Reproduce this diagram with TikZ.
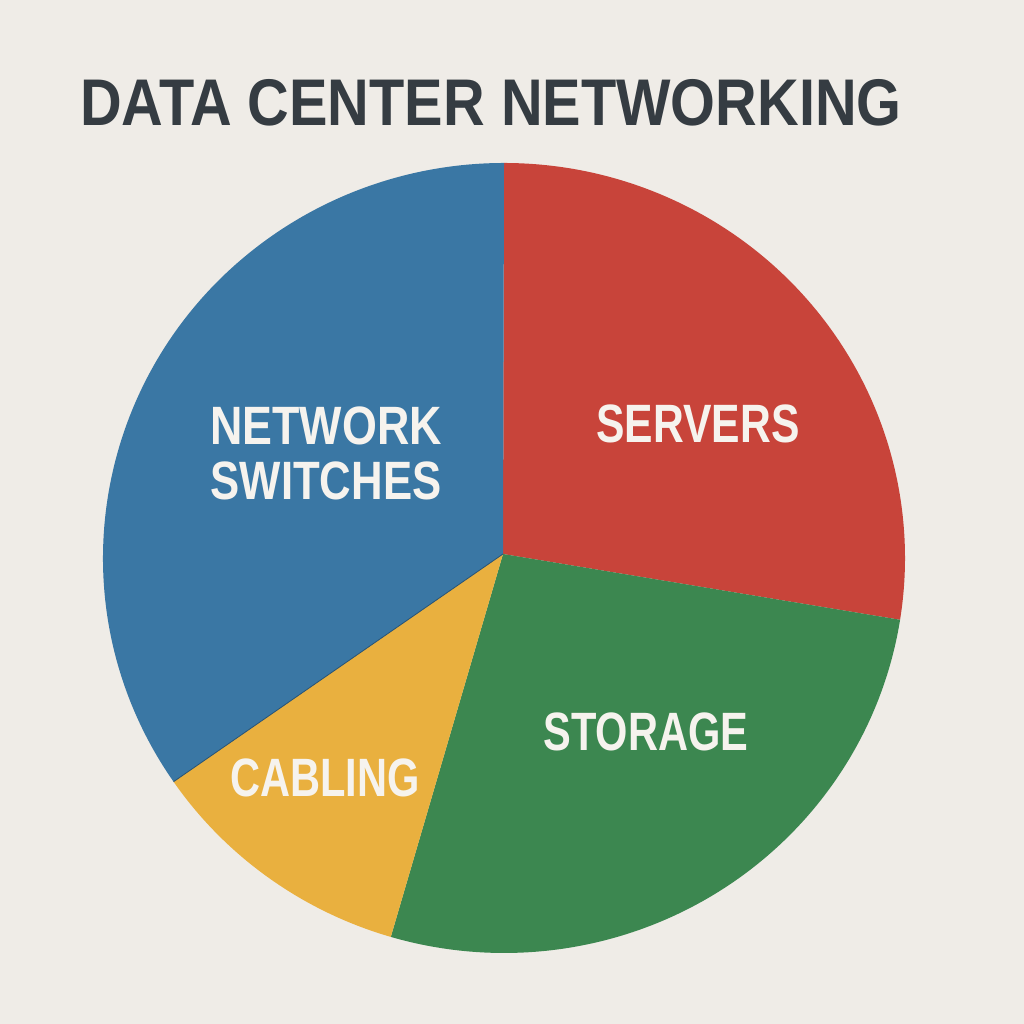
\documentclass[tikz,border=0pt]{standalone}
\usepackage{fontspec}
\setmainfont{Liberation Sans}
\usetikzlibrary{calc}
\definecolor{bg}{HTML}{EFECE7}
\definecolor{pblue}{HTML}{3A77A4}
\definecolor{pred}{HTML}{C8443A}
\definecolor{pgreen}{HTML}{3C8750}
\definecolor{pyellow}{HTML}{E9B03F}
\definecolor{ptitle}{HTML}{353C42}
\definecolor{plabel}{HTML}{F6F3EE}
\begin{document}
\begin{tikzpicture}[x=1pt,y=1pt,
  lbl/.style={anchor=base, inner sep=0pt, text=plabel, font=\fontsize{54}{58}\selectfont\bfseries}]
\fill[bg] (0,0) rectangle (1024,1024);
\useasboundingbox (0,0) rectangle (1024,1024);
\coordinate (O) at (504,466);
\coordinate (V) at (503,470);
% slices
\fill[pred] (V) -- ($(O)+(90:401 and 395)$) arc[start angle=90, end angle=-9, x radius=401, y radius=395] -- cycle;
\fill[pgreen] (V) -- ($(O)+(-9:401 and 395)$) arc[start angle=-9, end angle=-106.4, x radius=401, y radius=395] -- cycle;
\fill[pyellow] (V) -- ($(O)+(253.6:401 and 395)$) arc[start angle=253.6, end angle=214.5, x radius=401, y radius=395] -- cycle;
\fill[pblue] (V) -- ($(O)+(214.5:401 and 395)$) arc[start angle=214.5, end angle=90, x radius=401, y radius=395] -- cycle;
\draw[pblue!70!black, line width=0.8pt] (V) -- ($(O)+(214.5:401 and 395)$);
% title
\node[anchor=base west, inner sep=0pt, text=ptitle, font=\fontsize{66}{70}\selectfont\bfseries] (title) at (80,898) {\scalebox{0.874}[1]{DATA CENTER NETWORKING}};
% labels
\node[lbl] (net) at (326,579) {\scalebox{0.83}[1]{NETWORK}};
\node[lbl] (sw) at (326,524) {\scalebox{0.81}[1]{SWITCHES}};
\node[lbl] (srv) at (698,581) {\scalebox{0.79}[1]{SERVERS}};
\node[lbl] (sto) at (646,273) {\scalebox{0.77}[1]{STORAGE}};
\node[lbl] (cab) at (325,227) {\scalebox{0.77}[1]{CABLING}};
\end{tikzpicture}
\end{document}
